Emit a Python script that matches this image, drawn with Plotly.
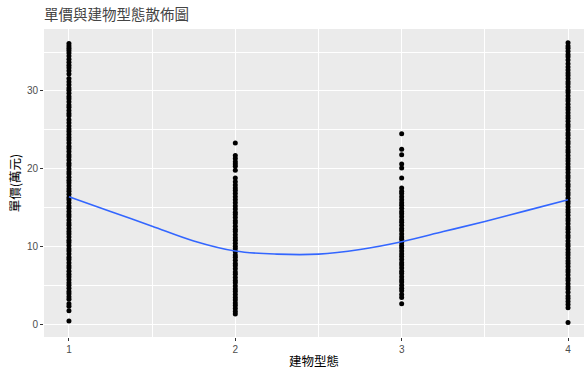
import plotly.graph_objects as go

# Building type categories
categories = [1, 2, 3, 4]

price_type1 = [0.4, 1.7, 2.3, 2.6, 3.2, 3.5, 3.9, 4.2, 4.6, 5.0, 5.3, 5.7, 6.1, 6.4, 6.8, 7.2,
               7.5, 7.9, 8.3, 8.6, 9.0, 9.4, 9.7, 10.1, 10.5, 10.8, 11.2, 11.6, 11.9, 12.3,
               12.7, 13.0, 13.4, 13.8, 14.1, 14.5, 14.9, 15.2, 15.6, 16.0, 16.3, 16.7, 17.1,
               17.4, 17.8, 18.2, 18.5, 18.9, 19.3, 19.6, 20.0, 20.4, 20.7, 21.1, 21.5, 21.8,
               22.2, 22.6, 22.9, 23.3, 23.7, 24.0, 24.4, 24.8, 25.1, 25.5, 25.9, 26.3, 26.8,
               27.1, 27.5, 27.9, 28.2, 28.6, 29.0, 29.3, 29.7, 30.1, 30.4, 30.8, 31.2, 31.6,
               32.2, 32.6, 33.0, 33.3, 33.7, 34.1, 34.5, 34.9, 35.2, 35.5, 35.8, 36.1]
price_type2 = [1.3, 1.6, 2.0, 2.4, 2.7, 3.1, 3.4, 3.8, 4.2, 4.5, 4.9, 5.3, 5.6, 6.0, 6.4, 6.7,
               7.1, 7.5, 7.8, 8.2, 8.6, 8.9, 9.3, 9.7, 10.0, 10.4, 10.8, 11.1, 11.5, 11.9,
               12.2, 12.6, 13.0, 13.3, 13.7, 14.1, 14.4, 14.8, 15.2, 15.6, 16.0, 16.4, 16.8,
               17.2, 17.5, 17.9, 18.3, 18.8, 19.8, 20.3, 20.6, 20.9, 21.3, 21.7, 23.3]
price_type3 = [2.6, 3.4, 3.8, 4.3, 4.6, 5.0, 5.4, 5.7, 6.1, 6.5, 6.8, 7.2, 7.6, 7.9, 8.3, 8.7,
               9.0, 9.4, 9.8, 10.1, 10.5, 10.9, 11.2, 11.6, 12.0, 12.3, 12.7, 13.1, 13.4,
               13.8, 14.2, 14.5, 14.9, 15.3, 15.6, 16.0, 16.4, 16.8, 17.1, 17.5, 18.8, 20.1,
               20.6, 21.8, 22.5, 24.5]
price_type4 = [0.2, 2.1, 2.5, 2.9, 3.3, 3.6, 4.1, 4.5, 4.8, 5.2, 5.6, 5.9, 6.3, 6.7, 7.0, 7.4,
               7.8, 8.1, 8.5, 8.9, 9.2, 9.6, 10.0, 10.3, 10.7, 11.1, 11.4, 11.8, 12.2, 12.5,
               12.9, 13.3, 13.6, 14.0, 14.4, 14.7, 15.1, 15.5, 15.8, 16.2, 16.6, 16.9, 17.3,
               17.7, 18.0, 18.4, 18.8, 19.1, 19.5, 19.9, 20.2, 20.6, 21.0, 21.3, 21.7, 22.1,
               22.4, 22.8, 23.2, 23.5, 23.9, 24.3, 24.6, 25.0, 25.4, 25.7, 26.1, 26.5, 26.8,
               27.2, 27.6, 27.9, 28.3, 28.7, 29.0, 29.4, 29.8, 30.1, 30.5, 30.9, 31.2, 31.6,
               32.0, 32.3, 32.7, 33.1, 33.5, 34.0, 34.4, 34.7, 35.1, 35.5, 35.8, 36.2]

# LOESS smooth line
smooth_x = [1, 1.25, 1.5, 1.75, 2, 2.25, 2.5, 2.75, 3, 3.25, 3.5, 3.75, 4]
smooth_y = [16.4, 14.5, 12.6, 10.7, 9.4, 9.0, 9.0, 9.6, 10.6, 11.9, 13.2, 14.6, 16.0]

x_ticks = [1, 2, 3, 4]
y_ticks = [0, 10, 20, 30]

groups = [price_type1, price_type2, price_type3, price_type4]
xs, ys = [], []
for c, vals in zip(categories, groups):
    xs += [c] * len(vals)
    ys += vals

fig = go.Figure()
fig.add_trace(go.Scatter(x=xs, y=ys, mode="markers",
                         marker=dict(color="black", size=5, line=dict(width=0)),
                         showlegend=False, hoverinfo="skip"))
fig.add_trace(go.Scatter(x=smooth_x, y=smooth_y, mode="lines",
                         line=dict(color="#3366FF", width=1.6, shape="spline"),
                         showlegend=False))

font_family = "Liberation Sans, Arial, Noto Sans CJK TC, sans-serif"
cjk_family = "Noto Sans CJK TC, sans-serif"

fig.update_layout(
    width=584, height=370,
    margin=dict(l=44, r=0, t=29, b=33),
    paper_bgcolor="white",
    plot_bgcolor="#EBEBEB",
    title=dict(text="單價與建物型態散佈圖", x=44/584, xanchor="left", y=1 - 15/370,
               yanchor="middle", font=dict(family=cjk_family, size=14.5, color="#444444")),
    xaxis=dict(range=[0.85, 4.096], tickvals=x_ticks, ticktext=[str(t) for t in x_ticks],
               showgrid=True, gridcolor="white", gridwidth=1.1, zeroline=False,
               ticks="outside", ticklen=3, tickcolor="#333333", tickwidth=1,
               tickfont=dict(family=font_family, size=10, color="#4D4D4D"),
               minor=dict(dtick=0.5, tick0=0.5, showgrid=True, gridcolor="white", gridwidth=0.5),
               title=dict(text="建物型態", font=dict(family=cjk_family, size=12.5, color="black"),
                          standoff=3)),
    yaxis=dict(range=[-1.67, 37.98], tickvals=y_ticks, ticktext=[str(t) for t in y_ticks],
               showgrid=True, gridcolor="white", gridwidth=1.1, zeroline=False,
               ticks="outside", ticklen=3, tickcolor="#333333", tickwidth=1,
               tickfont=dict(family=font_family, size=10, color="#4D4D4D"),
               minor=dict(dtick=5, tick0=5, showgrid=True, gridcolor="white", gridwidth=0.5),
               title=dict(text="單價(萬元)", font=dict(family=cjk_family, size=12.5, color="black"),
                          standoff=3)),
)

fig.write_html("out.html")
